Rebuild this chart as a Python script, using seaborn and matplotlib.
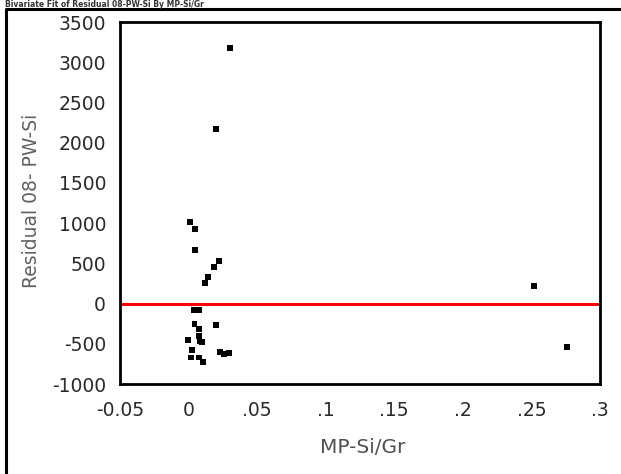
import matplotlib
matplotlib.use("Agg")
import matplotlib.pyplot as plt
import seaborn as sns
import pandas as pd
from matplotlib.lines import Line2D

title = "Bivariate Fit of Residual 08-PW-Si By MP-Si/Gr"
x_label = "MP-Si/Gr"
y_label = "Residual 08- PW-Si"

mp_si_gr = [0.030, 0.020, 0.0013, 0.0047, 0.0047, 0.022, 0.0183, 0.0139, 0.0123,
            0.004, 0.0077, 0.0043, 0.0076, 0.0076, 0.008, 0.0198, -0.0002, 0.0095,
            0.0023, 0.0016, 0.0076, 0.0102, 0.023, 0.026, 0.0295, 0.2522, 0.2758]
residual = [3179, 2172, 1011, 924, 667, 534, 451, 335, 260,
            -80, -80, -255, -320, -400, -470, -272, -452, -473,
            -577, -670, -670, -732, -600, -630, -610, 219, -540]

x_ticks = [-0.05, 0, 0.05, 0.1, 0.15, 0.2, 0.25, 0.3]
x_tick_labels = ["-0.05", "0", ".05", ".1", ".15", ".2", ".25", ".3"]
y_ticks = [-1000, -500, 0, 500, 1000, 1500, 2000, 2500, 3000, 3500]
y_tick_labels = ["-1000", "-500", "0", "500", "1000", "1500", "2000", "2500", "3000", "3500"]

df = pd.DataFrame({"x": mp_si_gr, "y": residual})

sns.set_style("white")
plt.rcParams["font.family"] = ["DejaVu Sans"]

W, H = 621, 474
fig = plt.figure(figsize=(W / 100, H / 100), dpi=100)
ax = fig.add_axes([120 / W, 90 / H, 480 / W, 362 / H])

ax.axhline(0, color="#ff0000", lw=2.2, zorder=1)
sns.scatterplot(data=df, x="x", y="y", ax=ax, marker="s", s=18, color="black",
                edgecolor="none", linewidth=0, zorder=3)

ax.set_xlim(-0.05, 0.3)
ax.set_ylim(-1000, 3500)
ax.set_xticks(x_ticks)
ax.set_xticklabels(x_tick_labels)
ax.set_yticks(y_ticks)
ax.set_yticklabels(y_tick_labels)
ax.tick_params(axis="both", direction="out", length=8.5, width=1.6, color="black",
               labelsize=13.5, labelcolor="#2a2a2a")
ax.tick_params(axis="x", pad=4)
ax.tick_params(axis="y", pad=1.5)
for sp in ax.spines.values():
    sp.set_color("black")
    sp.set_linewidth(2)
    sp.set_visible(True)

ax.set_xlabel(x_label, fontsize=14.5, color="#505050")
ax.set_ylabel(y_label, fontsize=13.5, color="#606060")
ax.xaxis.set_label_coords(0.506, -0.148)
ax.yaxis.set_label_coords(-0.165, 0.506)

# outer frame (left and top)
fig.add_artist(Line2D([6 / W, 6 / W, 1.0], [0.0, 1 - 9 / H, 1 - 9 / H],
                      transform=fig.transFigure, color="black", lw=2.2))
# title in the thin band above the frame
fig.text(5 / W, 1.0, title, fontsize=5.5, fontweight="bold", color="#333333",
         ha="left", va="top")

fig.savefig("out.png", dpi=100)
